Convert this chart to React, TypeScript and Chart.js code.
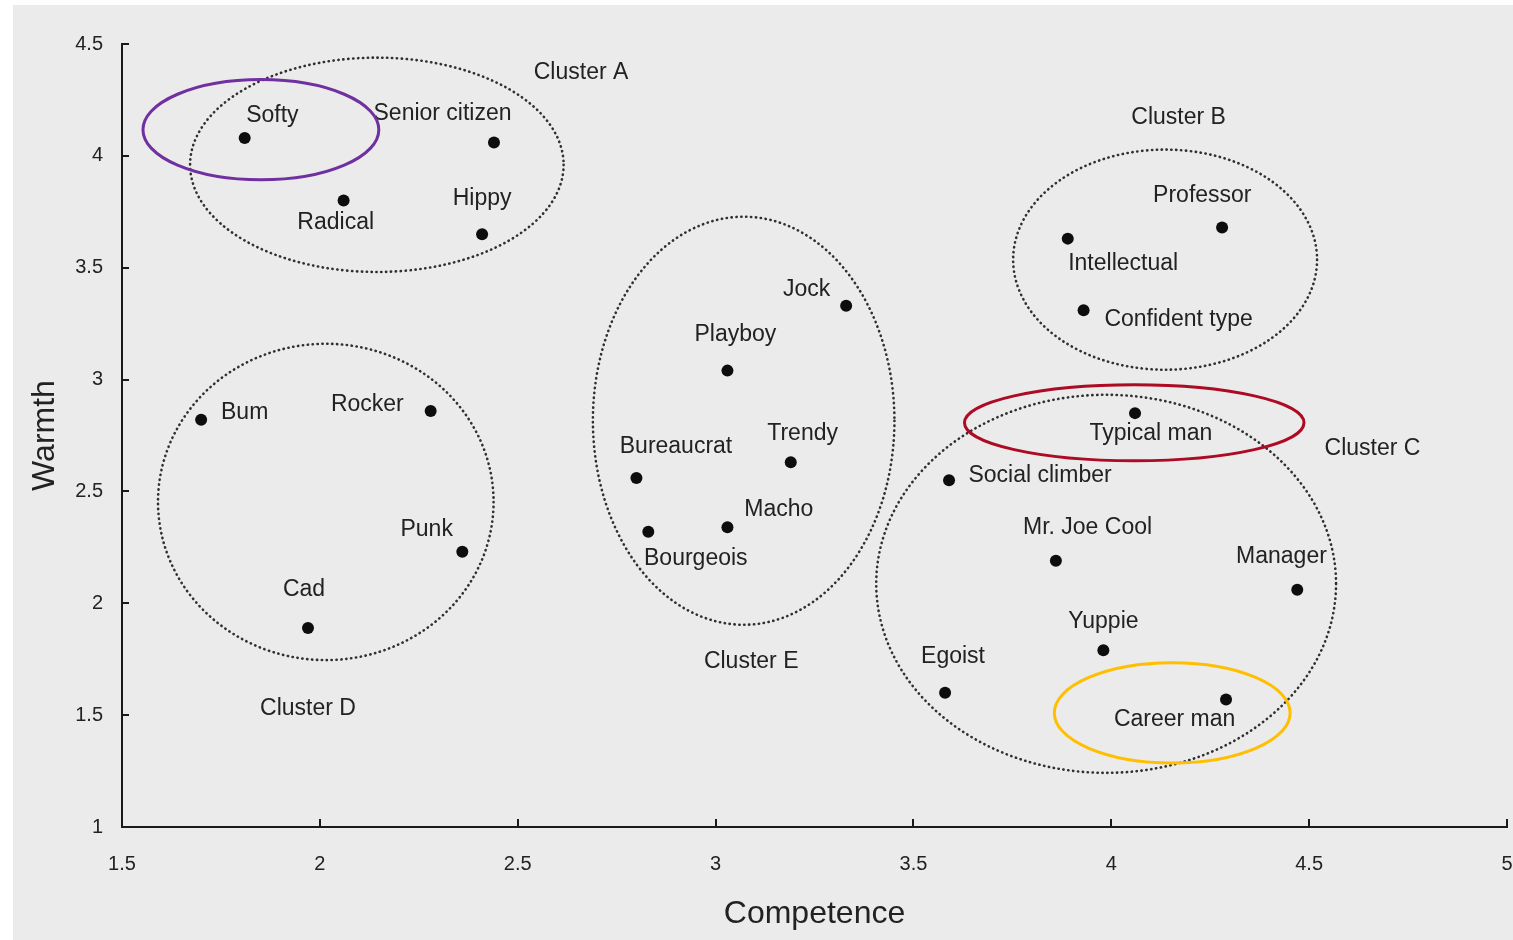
import React, { useEffect, useRef } from "react";
import { Chart, registerables } from "chart.js";

Chart.register(...registerables);

// Stereotype points (Competence, Warmth)
const names = [
  "Softy", "Senior citizen", "Radical", "Hippy", "Professor", "Intellectual",
  "Confident type", "Jock", "Playboy", "Bum", "Rocker", "Typical man",
  "Trendy", "Bureaucrat", "Social climber", "Macho", "Bourgeois", "Punk",
  "Mr. Joe Cool", "Manager", "Cad", "Yuppie", "Egoist", "Career man",
];
const competence = [
  1.81, 2.44, 2.06, 2.41, 4.28, 3.89,
  3.93, 3.33, 3.03, 1.70, 2.28, 4.06,
  3.19, 2.80, 3.59, 3.03, 2.83, 2.36,
  3.86, 4.47, 1.97, 3.98, 3.58, 4.29,
];
const warmth = [
  4.08, 4.06, 3.80, 3.65, 3.68, 3.63,
  3.31, 3.33, 3.04, 2.82, 2.86, 2.85,
  2.63, 2.56, 2.55, 2.34, 2.32, 2.23,
  2.19, 2.06, 1.89, 1.79, 1.60, 1.57,
];
// label anchor positions (data units)
const labelX = [
  1.88, 2.31, 2.04, 2.41, 4.23, 4.03,
  4.17, 3.23, 3.05, 1.81, 2.12, 4.10,
  3.22, 2.90, 3.82, 3.16, 2.95, 2.27,
  3.94, 4.43, 1.96, 3.98, 3.60, 4.16,
];
const labelY = [
  4.18, 4.19, 3.70, 3.81, 3.82, 3.52,
  3.27, 3.40, 3.20, 2.85, 2.89, 2.76,
  2.76, 2.70, 2.57, 2.42, 2.20, 2.33,
  2.34, 2.21, 2.06, 1.92, 1.76, 1.48,
];

// Clusters (dotted ellipses, data units)
const clusterNames = ["Cluster A", "Cluster B", "Cluster C", "Cluster D", "Cluster E"];
const clusterCX = [2.144, 4.136, 3.987, 2.015, 3.071];
const clusterCY = [3.96, 3.536, 2.087, 2.453, 2.816];
const clusterRX = [0.472, 0.384, 0.581, 0.424, 0.381];
const clusterRY = [0.479, 0.492, 0.845, 0.707, 0.912];
const clusterLabelX = [2.66, 4.17, 4.66, 1.97, 3.09];
const clusterLabelY = [4.37, 4.17, 2.69, 1.53, 1.74];

// Highlight ellipses (data units)
const highlightCX = [1.851, 4.058, 4.154];
const highlightCY = [4.117, 2.807, 1.51];
const highlightRX = [0.298, 0.429, 0.298];
const highlightRY = [0.224, 0.17, 0.224];
const highlightColors = ["#7030a0", "#ad0a24", "#ffbf00"];

const xTicks = [1.5, 2, 2.5, 3, 3.5, 4, 4.5, 5];
const yTicks = [1, 1.5, 2, 2.5, 3, 3.5, 4, 4.5];

const FONT = "'Liberation Sans', Arial, Helvetica, sans-serif";
const TEXT = "#222222";

function ellipsePath(ctx: CanvasRenderingContext2D, chart: any, cx: number, cy: number, rx: number, ry: number) {
  const xs = chart.scales.x;
  const ys = chart.scales.y;
  const px = xs.getPixelForValue(cx);
  const py = ys.getPixelForValue(cy);
  const prx = Math.abs(xs.getPixelForValue(cx + rx) - px);
  const pry = Math.abs(ys.getPixelForValue(cy + ry) - py);
  ctx.beginPath();
  ctx.ellipse(px, py, prx, pry, 0, 0, Math.PI * 2);
}

const overlayPlugin = {
  id: "overlay",
  beforeDatasetsDraw(chart: any) {
    const ctx = chart.ctx as CanvasRenderingContext2D;
    ctx.save();
    ctx.strokeStyle = "#303030";
    ctx.lineWidth = 2.6;
    ctx.lineCap = "round";
    ctx.setLineDash([0.3, 4.6]);
    for (let i = 0; i < clusterNames.length; i++) {
      ellipsePath(ctx, chart, clusterCX[i], clusterCY[i], clusterRX[i], clusterRY[i]);
      ctx.stroke();
    }
    ctx.restore();
  },
  afterDatasetsDraw(chart: any) {
    const ctx = chart.ctx as CanvasRenderingContext2D;
    const xs = chart.scales.x;
    const ys = chart.scales.y;
    ctx.save();
    // labels
    ctx.fillStyle = TEXT;
    ctx.font = `23px ${FONT}`;
    ctx.textAlign = "center";
    ctx.textBaseline = "middle";
    for (let i = 0; i < names.length; i++) {
      ctx.fillText(names[i], xs.getPixelForValue(labelX[i]), ys.getPixelForValue(labelY[i]));
    }
    for (let i = 0; i < clusterNames.length; i++) {
      ctx.fillText(clusterNames[i], xs.getPixelForValue(clusterLabelX[i]), ys.getPixelForValue(clusterLabelY[i]));
    }
    // highlight ellipses
    ctx.lineWidth = 3;
    for (let i = 0; i < highlightCX.length; i++) {
      ctx.strokeStyle = highlightColors[i];
      ellipsePath(ctx, chart, highlightCX[i], highlightCY[i], highlightRX[i], highlightRY[i]);
      ctx.stroke();
    }
    ctx.restore();
  },
  afterDraw(chart: any) {
    const ctx = chart.ctx as CanvasRenderingContext2D;
    const xs = chart.scales.x;
    const ys = chart.scales.y;
    const { left, bottom } = chart.chartArea;
    ctx.save();
    ctx.strokeStyle = "#1a1a1a";
    ctx.lineWidth = 2;
    ctx.beginPath();
    xTicks.forEach((v) => {
      const px = Math.round(xs.getPixelForValue(v));
      ctx.moveTo(px, bottom);
      ctx.lineTo(px, bottom - 8);
    });
    yTicks.forEach((v) => {
      const py = Math.round(ys.getPixelForValue(v));
      ctx.moveTo(left, py);
      ctx.lineTo(left + 7, py);
    });
    ctx.stroke();
    ctx.restore();
  },
};

export default function App() {
  const canvasRef = useRef<HTMLCanvasElement | null>(null);

  useEffect(() => {
    const canvas = canvasRef.current;
    if (!canvas) return;
    const points = competence.map((c, i) => ({ x: c, y: warmth[i] }));
    const chart = new Chart(canvas, {
      type: "scatter",
      data: {
        datasets: [
          {
            label: "Stereotypes",
            data: points,
            pointRadius: 6,
            pointHoverRadius: 6,
            pointBackgroundColor: "#0d0d0d",
            pointBorderWidth: 0,
          },
        ],
      },
      options: {
        responsive: false,
        devicePixelRatio: 1,
        animation: false,
        events: [],
        layout: { padding: { left: 0, top: 44, right: 6, bottom: 0 } },
        plugins: {
          legend: { display: false },
          tooltip: { enabled: false },
        },
        scales: {
          x: {
            type: "linear",
            min: 1.5,
            max: 5,
            afterFit: (s: any) => {
              s.height = 113;
              s.paddingLeft = 0;
              s.paddingRight = 0;
            },
            afterBuildTicks: (s: any) => {
              s.ticks = xTicks.map((v) => ({ value: v }));
            },
            grid: { display: true, drawOnChartArea: false, drawTicks: false, color: "rgba(0,0,0,0)" },
            border: { display: true, color: "#1a1a1a", width: 2 },
            ticks: {
              padding: 25,
              color: TEXT,
              font: { family: FONT, size: 20 },
              maxRotation: 0,
              callback: (v: any) => String(v),
            },
            title: {
              display: true,
              text: "Competence",
              color: TEXT,
              font: { family: FONT, size: 32 },
              padding: { top: 0, bottom: 7 },
            },
          },
          y: {
            type: "linear",
            min: 1,
            max: 4.5,
            afterFit: (s: any) => {
              s.width = 122;
              s.paddingTop = 0;
              s.paddingBottom = 0;
            },
            afterBuildTicks: (s: any) => {
              s.ticks = yTicks.map((v) => ({ value: v }));
            },
            grid: { display: true, drawOnChartArea: false, drawTicks: false, color: "rgba(0,0,0,0)" },
            border: { display: true, color: "#1a1a1a", width: 2 },
            ticks: {
              padding: 19,
              color: TEXT,
              font: { family: FONT, size: 20 },
              callback: (v: any) => String(v),
            },
            title: {
              display: true,
              text: "Warmth",
              color: TEXT,
              font: { family: FONT, size: 32 },
              padding: { top: 26, bottom: 0 },
            },
          },
        },
      },
      plugins: [overlayPlugin],
    });
    return () => chart.destroy();
  }, []);

  return (
    <div style={{ position: "absolute", left: 0, top: 0, width: 1513, height: 940, background: "#ffffff", overflow: "hidden" }}>
      <div style={{ position: "absolute", left: 13, top: 5, width: 1500, height: 935, background: "#ebebeb" }} />
      <canvas ref={canvasRef} width={1513} height={940} style={{ position: "absolute", left: 0, top: 0, width: 1513, height: 940 }} />
    </div>
  );
}
